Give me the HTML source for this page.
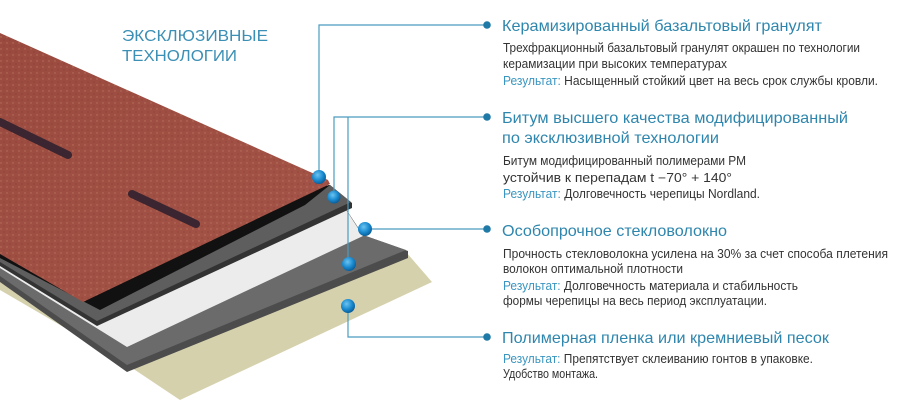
<!DOCTYPE html>
<html><head><meta charset="utf-8"><style>
html,body{margin:0;padding:0;background:#fff;width:900px;height:404px;overflow:hidden}
svg{display:block}
.t{font-family:"Liberation Sans",sans-serif;font-size:16px;fill:#2f86ad}
.b{font-family:"Liberation Sans Narrow","Liberation Sans",sans-serif;font-size:12.5px;fill:#333}
.r{fill:#3a95c0}
</style></head><body>
<svg width="900" height="404" viewBox="0 0 900 404" xmlns="http://www.w3.org/2000/svg">
<defs>
<radialGradient id="dot" cx="40%" cy="35%" r="65%"><stop offset="0" stop-color="#6cc4f0"/><stop offset="0.6" stop-color="#1a8ad0"/><stop offset="1" stop-color="#0b5f9a"/></radialGradient>
<linearGradient id="red" x1="0" y1="0" x2="1" y2="1"><stop offset="0" stop-color="#9a4a3e"/><stop offset="1" stop-color="#a55448"/></linearGradient>
<pattern id="spk" width="6" height="6" patternUnits="userSpaceOnUse"><circle cx="1" cy="1" r="0.7" fill="#c98a70" opacity="0.6"/><circle cx="4" cy="4" r="0.6" fill="#6e2e28" opacity="0.5"/></pattern>
</defs>
<!-- sand layer -->
<polygon points="0,262 363,237 406,252 432,282 180,400 120,360 0,290" fill="#d6d1ad"/>
<!-- gray fiberglass layer -->
<polygon points="0,256 330,185 363,235 408,251 408,258 127,372 0,282" fill="#4c4c4c"/>
<polygon points="0,255 330,185 363,235 406,250 127,365 0,276" fill="#6b6b6b"/>
<!-- white layer -->
<polygon points="0,254 330,185 363,236 127,347 0,268" fill="#ececec"/>
<!-- black bitumen layer -->
<polygon points="0,252 330,185 352,203 352,208 97,326 0,266" fill="#333"/>
<polygon points="0,252 330,185 351,202 97,321 0,262" fill="#5e5e5e"/>
<polygon points="0,252 330,185 305,205 100,310 0,258" fill="#111"/>
<!-- red layer -->
<polygon points="0,33 328,180 330,184 83,302 0,254" fill="url(#red)"/>
<polygon points="0,33 328,180 330,184 83,302 0,254" fill="url(#spk)"/>
<line x1="0" y1="122" x2="68" y2="155" stroke="#3a2530" stroke-width="8" stroke-linecap="round"/>
<line x1="132" y1="194" x2="196" y2="224" stroke="#3a2530" stroke-width="8" stroke-linecap="round"/>
<!-- connectors -->
<g stroke="#4a9cc0" stroke-width="1.2" fill="none">
<polyline points="319,177 319,25 487,25"/>
<polyline points="334,197 334,117 487,117"/>
<polyline points="348,117 348,264"/>
<polyline points="365,229 487,229"/>
<polyline points="348,306 348,337 487,337"/>
</g>
<g fill="url(#dot)">
<circle cx="319" cy="177" r="7"/><circle cx="334" cy="197" r="6.5"/><circle cx="365" cy="229" r="7"/><circle cx="349" cy="264" r="7"/><circle cx="348" cy="306" r="7"/>
</g>
<g fill="#1f7aa8">
<circle cx="487" cy="25" r="3.8"/><circle cx="487" cy="117" r="3.8"/><circle cx="487" cy="229" r="3.8"/><circle cx="487" cy="337" r="3.8"/>
</g>
<text class="t" x="122" y="41" textLength="146" lengthAdjust="spacingAndGlyphs" style="fill:#3c8fb5">ЭКСКЛЮЗИВНЫЕ</text>
<text class="t" x="122" y="61" textLength="115" lengthAdjust="spacingAndGlyphs" style="fill:#3c8fb5">ТЕХНОЛОГИИ</text>

<text class="t" x="502" y="31" textLength="320" lengthAdjust="spacingAndGlyphs">Керамизированный базальтовый гранулят</text>
<text class="b" x="503" y="52" textLength="357" lengthAdjust="spacingAndGlyphs">Трехфракционный базальтовый гранулят окрашен по технологии</text>
<text class="b" x="503" y="68" textLength="224" lengthAdjust="spacingAndGlyphs">керамизации при высоких температурах</text>
<text class="b" x="503" y="85" textLength="375" lengthAdjust="spacingAndGlyphs"><tspan class="r">Результат:</tspan> Насыщенный стойкий цвет на весь срок службы кровли.</text>

<text class="t" x="502" y="123" textLength="346" lengthAdjust="spacingAndGlyphs">Битум высшего качества модифицированный</text>
<text class="t" x="502" y="143" textLength="217" lengthAdjust="spacingAndGlyphs">по эксклюзивной технологии</text>
<text class="b" x="503" y="165" textLength="243" lengthAdjust="spacingAndGlyphs">Битум модифицированный полимерами РМ</text>
<text class="b" x="503" y="182" textLength="229" lengthAdjust="spacingAndGlyphs">устойчив к перепадам t −70° + 140°</text>
<text class="b" x="503" y="198" textLength="257" lengthAdjust="spacingAndGlyphs"><tspan class="r">Результат:</tspan> Долговечность черепицы Nordland.</text>

<text class="t" x="502" y="236" textLength="225" lengthAdjust="spacingAndGlyphs">Особопрочное стекловолокно</text>
<text class="b" x="503" y="258" textLength="385" lengthAdjust="spacingAndGlyphs">Прочность стекловолокна усилена на 30% за счет способа плетения</text>
<text class="b" x="503" y="273" textLength="180" lengthAdjust="spacingAndGlyphs">волокон оптимальной плотности</text>
<text class="b" x="503" y="290" textLength="295" lengthAdjust="spacingAndGlyphs"><tspan class="r">Результат:</tspan> Долговечность материала и стабильность</text>
<text class="b" x="503" y="305" textLength="264" lengthAdjust="spacingAndGlyphs">формы черепицы на весь период эксплуатации.</text>

<text class="t" x="502" y="343" textLength="327" lengthAdjust="spacingAndGlyphs">Полимерная пленка или кремниевый песок</text>
<text class="b" x="503" y="363" textLength="310" lengthAdjust="spacingAndGlyphs"><tspan class="r">Результат:</tspan> Препятствует склеиванию гонтов в упаковке.</text>
<text class="b" x="503" y="378" textLength="95" lengthAdjust="spacingAndGlyphs">Удобство монтажа.</text>
</svg>
</body></html>
